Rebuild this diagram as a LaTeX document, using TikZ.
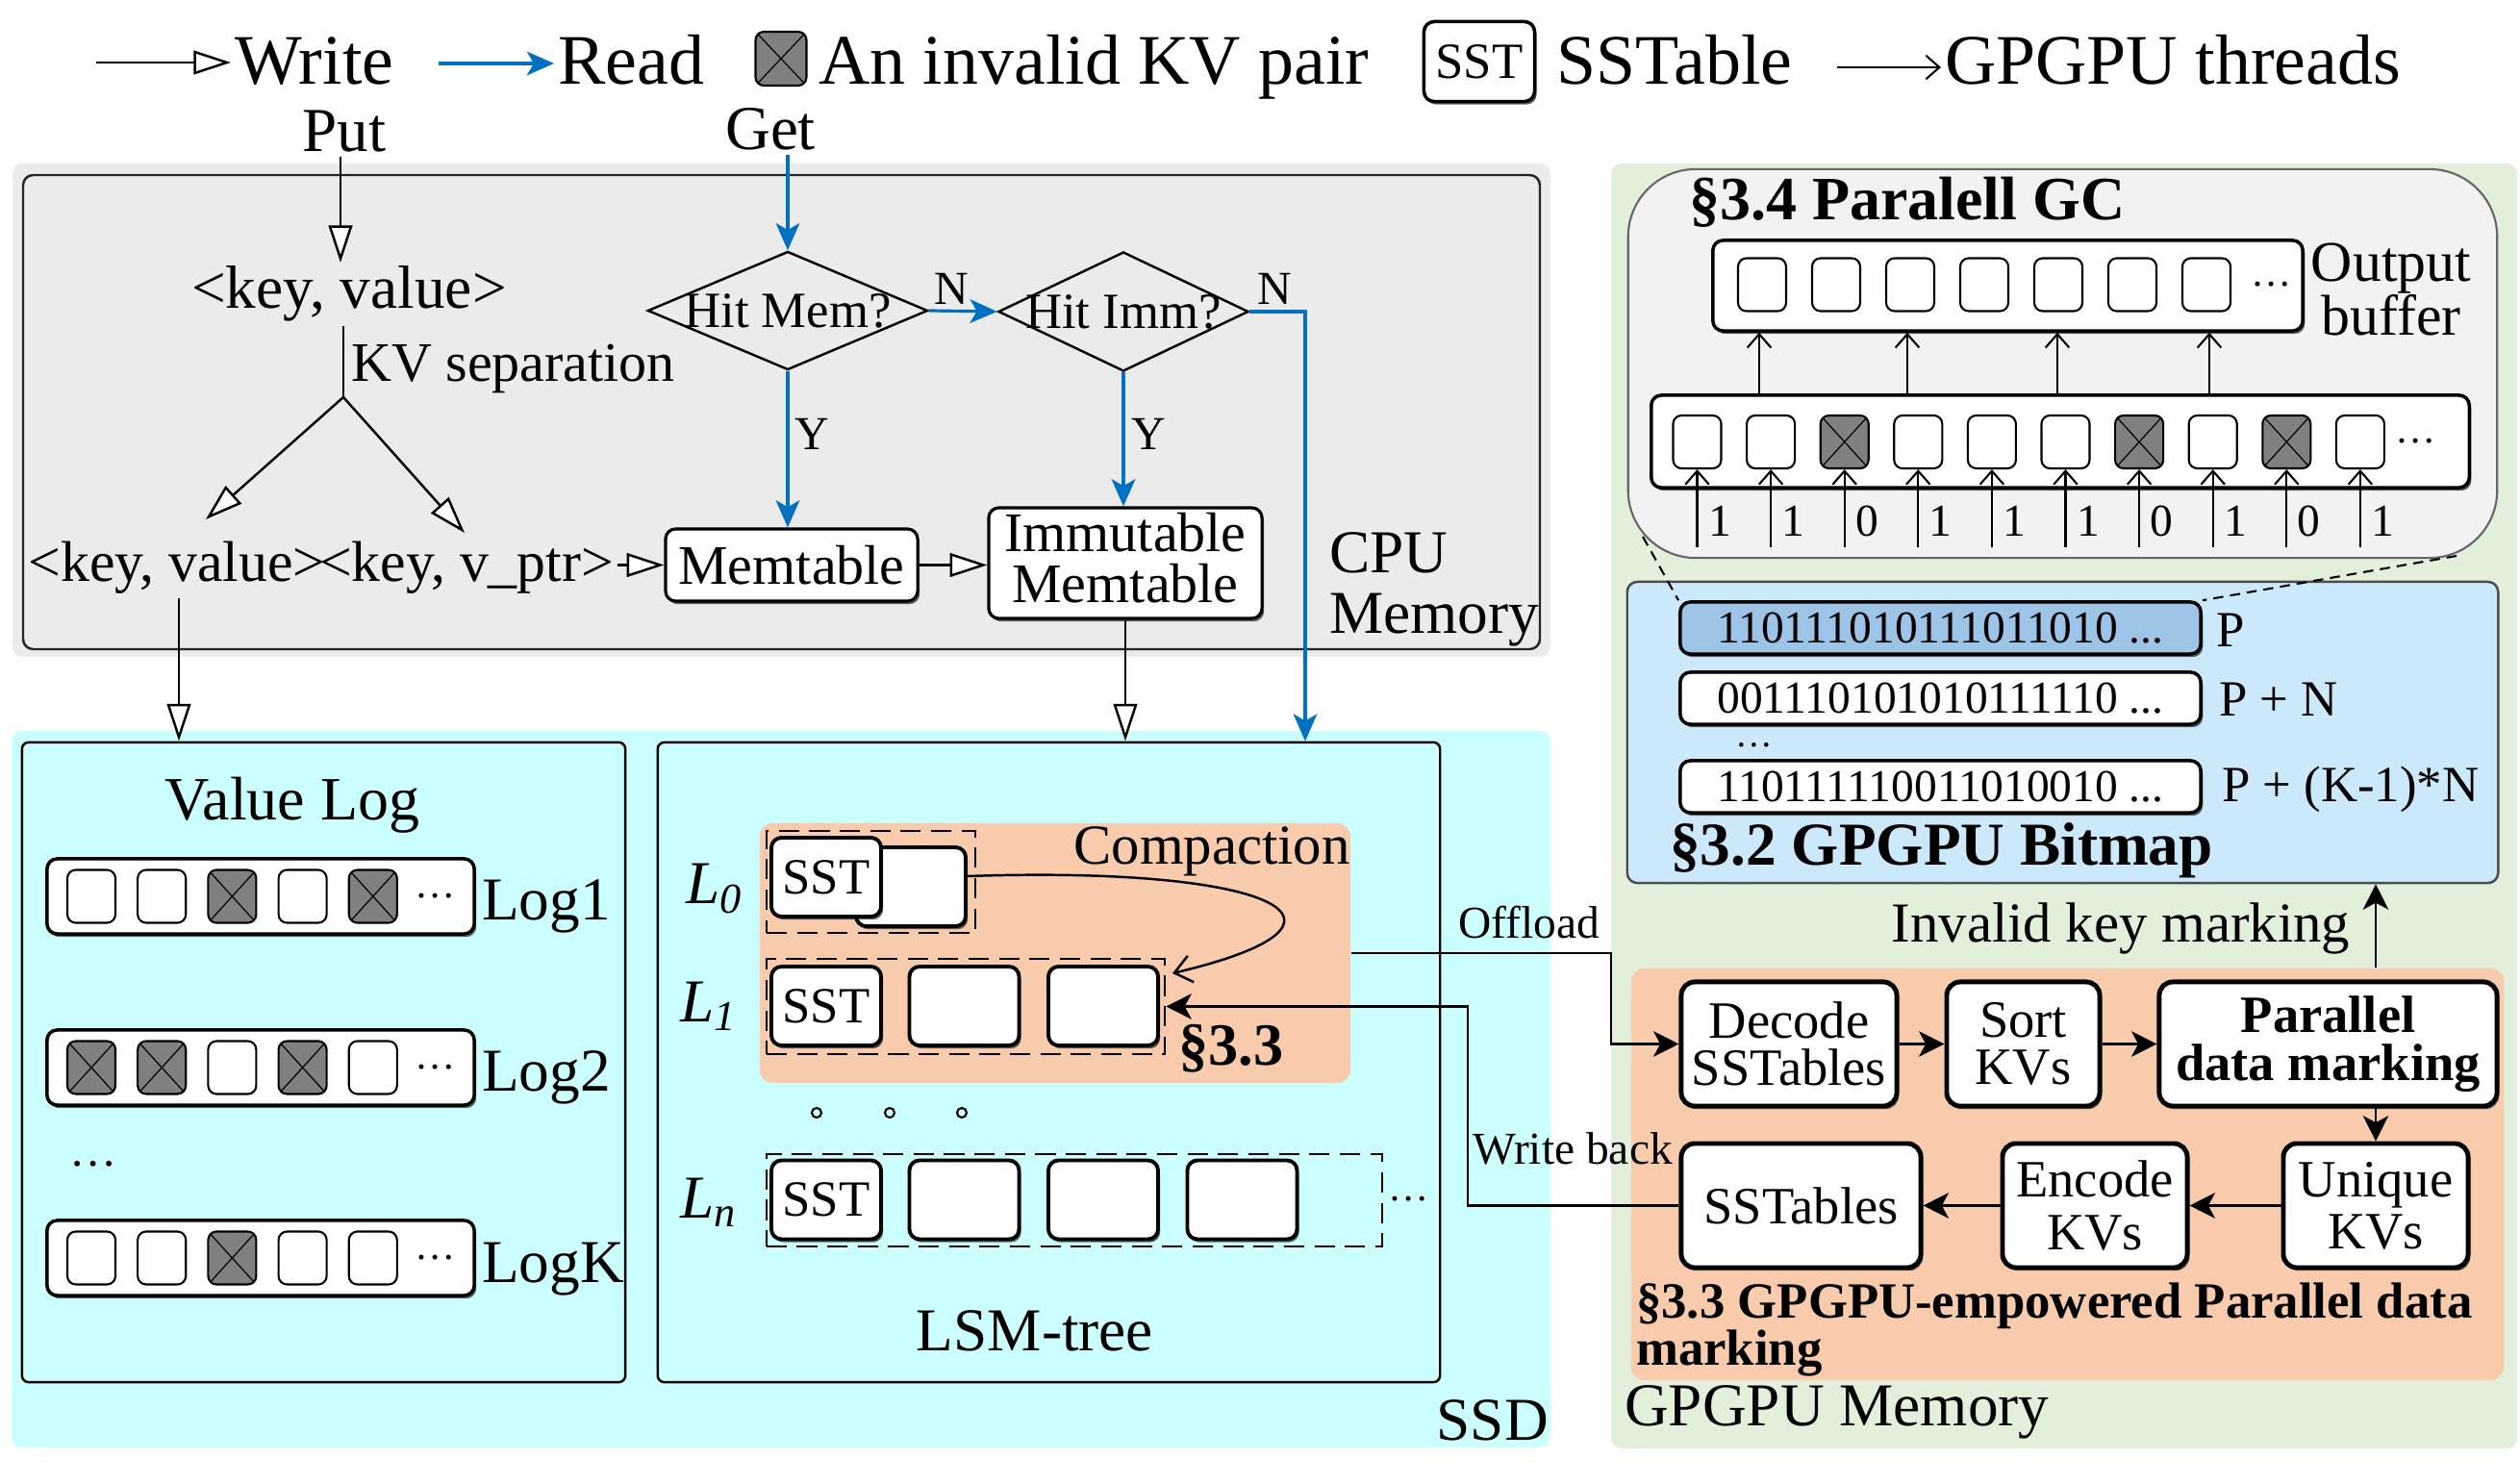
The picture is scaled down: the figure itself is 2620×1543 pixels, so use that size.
\documentclass[tikz,border=0pt]{standalone}
\usepackage{fontspec}
\setmainfont{Liberation Serif}
\usetikzlibrary{arrows.meta,shapes.geometric,shadows,calc}
\definecolor{cpugray}{HTML}{EBEBEB}
\definecolor{ssdcyan}{HTML}{CCFFFF}
\definecolor{orng}{HTML}{F8CBAD}
\definecolor{grn}{HTML}{E2EFDA}
\definecolor{bmblue}{HTML}{CCE9FB}
\definecolor{pblue}{HTML}{9DC3E6}
\definecolor{gcgray}{HTML}{F2F2F2}
\definecolor{rdblue}{HTML}{0070C0}
\definecolor{invgray}{HTML}{808080}
\newcommand\fsz[1]{\fontsize{#1}{#1}\selectfont}
\newcommand\fsl[2]{\fontsize{#1}{#2}\selectfont}
\newcommand\logrow[3]{%
  \node[rowbox, minimum width=4.44cm, minimum height=0.78cm] (log#1) at (271,#2) {};
  \foreach \v [count=\i from 0] in {#3} {
    \ifnum\v=1 \node[cell,inv] (lc#1\i) at ({95+73.2*\i},#2) {};
    \else \node[cell] (lc#1\i) at ({95+73.2*\i},#2) {}; \fi
  }
  \node[font=\fsz{12}] (ld#1) at (453,#2) {\ldots};
  \node[font=\fsz{18},anchor=base west] (lbl#1) at (497,{#2+25}) {Log#1};
}
\begin{document}
\begin{tikzpicture}[x=0.01cm,y=-0.01cm,
  every node/.style={inner sep=1pt},
  wr/.style={line width=0.7pt,-{Triangle[fill=white,length=11pt,width=7pt]}},
  rd/.style={line width=0.9pt,draw=rdblue,-{Stealth[length=8pt,width=7pt,inset=2pt]}},
  fa/.style={line width=0.8pt,-{Stealth[length=7.5pt,width=7.5pt,inset=2pt]}},
  th/.style={line width=0.6pt,-{Straight Barb[length=4pt,width=7pt]}},
  shd/.style={drop shadow={shadow xshift=0.6pt,shadow yshift=-0.9pt,fill=black,opacity=0.6}},
  cpubox/.style={draw,fill=white,rounded corners=3pt,line width=0.9pt,shd},
  rowbox/.style={draw,fill=white,rounded corners=3pt,line width=1pt,shd},
  cell/.style={draw,fill=white,rounded corners=2.5pt,line width=0.6pt,minimum width=0.5cm,minimum height=0.55cm,inner sep=0pt},
  inv/.style={fill=invgray,path picture={\draw[line width=0.35pt] (path picture bounding box.north west) -- (path picture bounding box.south east) (path picture bounding box.north east) -- (path picture bounding box.south west);}},
  sstbox/.style={draw,fill=white,rounded corners=3pt,line width=1.1pt,shd,minimum width=1.14cm,minimum height=0.82cm,font=\fsz{15}},
  dbox/.style={draw,dash pattern=on 6pt off 3pt,line width=0.7pt},
  gbox/.style={draw,fill=white,rounded corners=4pt,line width=1.4pt,shd,minimum height=1.29cm,align=center,font=\fsl{15.5}{14}},
  bitrow/.style={draw,rounded corners=3pt,line width=1pt,shd,minimum width=5.41cm,minimum height=0.54cm,font=\fsz{13.5}},
  dmd/.style={diamond,draw,line width=0.7pt,inner sep=0pt}
]
\useasboundingbox (0,0) rectangle (2620,1543);

% ---------------- backgrounds
\fill[cpugray,rounded corners=3pt] (13,170) rectangle (1612,683);
\draw[rounded corners=3pt,line width=0.7pt,draw=black!85] (24,182) rectangle (1601,675);
\fill[ssdcyan,rounded corners=3pt] (12,760) rectangle (1612,1505);
\fill[grn,rounded corners=3pt] (1675,170) rectangle (2617,1506);

% ---------------- legend
\node[font=\fsz{21},anchor=base west] (lgw) at (240,88) {Write};
\coordinate (lgwa) at (100,65);
\draw[wr] (lgwa) -- (lgwa -| lgw.west);
\node[font=\fsz{21},anchor=base west] (lgr) at (576,88) {Read};
\coordinate (lgra) at (456,66);
\draw[rd] (lgra) -- (lgra -| lgr.west);
\node[cell,inv,minimum width=0.53cm,minimum height=0.56cm] (lginv) at (812,61) {};
\node[font=\fsz{21},anchor=base west] (lgi) at (847,88) {An invalid KV pair};
\node[draw,fill=white,rounded corners=3pt,line width=1pt,shd,minimum width=1.15cm,minimum height=0.83cm,font=\fsz{15}] (lgsst) at (1538,64) {SST};
\node[font=\fsz{21},anchor=base west] (lgs) at (1614,88) {SSTable};
\node[font=\fsz{21},anchor=base west] (lgt) at (2018,88) {GPGPU threads};
\coordinate (lgta) at (1910,70);
\draw[th] (lgta) -- (lgta -| lgt.west);

% ---------------- CPU memory
\node[font=\fsz{18.5},anchor=base] (put) at (358,158) {Put};
\node[font=\fsz{18.5},anchor=base] (get) at (801,156) {Get};
\node[font=\fsz{18},anchor=base] (kv) at (363,321) {<key, value>};
\coordinate (putx) at (354,273);
\draw[wr] (put.south -| putx) -- (putx);
\coordinate (split) at (357,413);
\draw[line width=0.7pt] (kv.south -| split) -- (split);
\node[font=\fsz{16.5},anchor=base west] (kvsep) at (361,397) {KV separation};
\node[font=\fsz{17},anchor=base] (kv2) at (184,605) {<key, value>};
\node[font=\fsz{17},anchor=base] (kvp) at (485,605) {<key, v\_ptr>};
\coordinate (tipL) at (214,540);
\coordinate (tipR) at (483,554);
\draw[wr] (split) -- (tipL);
\draw[wr] (split) -- (tipR);

\node[cpubox,minimum width=2.62cm,minimum height=0.75cm,font=\fsz{16.5}] (mem) at (823,587.5) {Memtable};
\node[cpubox,minimum width=2.84cm,minimum height=1.15cm] (imm) at (1170,585.5) {};
\node[font=\fsl{16.5}{15},align=center] (immt) at (1170,580) {Immutable\\Memtable};
\draw[wr] (kvp.east |- mem.west) -- (mem.west);
\draw[wr] (mem.east) -- (imm.west |- mem.east);

\node[dmd,minimum width=2.91cm,minimum height=1.23cm,label={[font=\fsz{15}]center:Hit Mem?}] (hm) at (819,323) {};
\node[dmd,minimum width=2.60cm,minimum height=1.24cm,label={[font=\fsz{15}]center:Hit Imm?}] (hi) at (1168,324) {};

\node[font=\fsz{18},anchor=west,align=left] (cpul) at (1378,613) {\fsl{18}{16.5}CPU\\Memory};

% ---------------- SSD
\node[draw,rounded corners=2pt,line width=0.7pt,minimum width=6.27cm,minimum height=6.65cm] (vlog) at (336.5,1104.5) {};
\node[draw,rounded corners=2pt,line width=0.7pt,minimum width=8.13cm,minimum height=6.65cm] (lsm) at (1090.5,1104.5) {};

\draw[rd] (get.south -| hm.north) -- (hm.north);
\draw[rd] (hm.south) -- (hm.south |- mem.north);
\draw[rd] (hm.east) -- (hi.west);
\draw[rd] (hi.south) -- (hi.south |- imm.north);
\coordinate (nturn) at (1357,324);
\draw[rd] (hi.east) -- (nturn) -- (nturn |- lsm.north);
\node[font=\fsz{14}] (y1) at (844,451) {Y};
\node[font=\fsz{14}] (y2) at (1194,451) {Y};
\node[font=\fsz{14}] (n1) at (989,300) {N};
\node[font=\fsz{14}] (n2) at (1325,300) {N};

\coordinate (vlx) at (186,0);
\draw[wr] (kv2.south -| vlx) -- (vlx |- vlog.north);
\draw[wr] (imm.south) -- (imm.south |- lsm.north);

\node[font=\fsz{18.2},anchor=base] (vlt) at (304,853) {Value Log};
\logrow{1}{932}{0,0,1,0,1}
\logrow{2}{1110}{1,1,0,1,0}
\logrow{K}{1308}{0,0,1,0,0}
\node[font=\fsz{14}] (vdots) at (97,1210) {\ldots};

\node[fill=orng,rounded corners=4pt,minimum width=6.14cm,minimum height=2.70cm] (comp) at (1097,991) {};
\node[font=\fsz{16.7},anchor=base] (comptxt) at (1260,899) {Compaction};
\node[font=\fsz{18}] (L0) at (743,924) {\textit{L}\textsubscript{\textit{0}}};
\node[font=\fsz{18}] (L1) at (737,1046) {\textit{L}\textsubscript{\textit{1}}};
\node[font=\fsz{18}] (Ln) at (737,1250) {\textit{L}\textsubscript{\textit{n}}};

\node[dbox,minimum width=2.17cm,minimum height=1.06cm] (d0) at (905.5,917) {};
\node[dbox,minimum width=4.14cm,minimum height=0.99cm] (d1) at (1004,1046.5) {};
\node[dbox,minimum width=6.40cm,minimum height=0.96cm] (dn) at (1117,1248) {};

\node[sstbox] (l0b) at (947,922) {};
\node[sstbox] (l0a) at (859,912) {SST};
\node[sstbox] (l1a) at (859,1046) {SST};
\node[sstbox] (l1b) at (1002.5,1046) {};
\node[sstbox] (l1c) at (1147,1046) {};
\node[sstbox] (lna) at (859,1247.5) {SST};
\node[sstbox] (lnb) at (1002.5,1247.5) {};
\node[sstbox] (lnc) at (1147,1247.5) {};
\node[sstbox] (lnx) at (1291.5,1247.5) {};
\node[font=\fsz{12}] (dnd) at (1465,1247) {\ldots};

\coordinate (cstart) at (1006,911);
\coordinate (ctip) at (1219,1012);
\draw[line width=0.7pt,-{Straight Barb[length=5pt,width=8pt]}] (cstart) .. controls (1330,900) and (1440,960) .. (ctip);
\node[font=\bfseries\fsz{17.7},anchor=base] (s33) at (1280,1108) {§3.3};

\node[circle,draw,line width=0.6pt,minimum size=0.1cm,inner sep=0pt] (o1) at (849,1157) {};
\node[circle,draw,line width=0.6pt,minimum size=0.1cm,inner sep=0pt] (o2) at (925,1157) {};
\node[circle,draw,line width=0.6pt,minimum size=0.1cm,inner sep=0pt] (o3) at (1000,1157) {};

\node[font=\fsz{18},anchor=base] (lsmt) at (1076,1404) {LSM-tree};
\node[font=\fsz{18},anchor=base east] (ssdt) at (1614,1497) {SSD};

% ---------------- GPGPU
\node[draw=black!60,fill=gcgray,rounded corners=20pt,line width=0.6pt,minimum width=9.03cm,minimum height=4.04cm] (pgc) at (2144.5,378) {};
\node[font=\bfseries\fsz{18.2},anchor=base west] (pgct) at (1752,229) {§3.4 Paralell GC};

\node[rowbox,minimum width=6.13cm,minimum height=0.94cm] (ob) at (2087.5,297) {};
\foreach \i in {0,...,6} {\node[cell] (oc\i) at ({1832+77*\i},296) {};}
\node[font=\fsz{12}] (obd) at (2362,296) {\ldots};
\node[font=\fsl{17}{16},align=center] (oblbl) at (2486,301) {Output\\buffer};

\node[rowbox,minimum width=8.5cm,minimum height=0.96cm] (ib) at (2142,459) {};
\foreach \v [count=\i from 0] in {0,0,1,0,0,0,1,0,1,0} {
  \ifnum\v=1 \node[cell,inv] (ic\i) at ({1764.5+76.6*\i},459.5) {};
  \else \node[cell] (ic\i) at ({1764.5+76.6*\i},459.5) {}; \fi
}
\node[font=\fsz{12}] (ibd) at (2512,459) {\ldots};
\foreach \b [count=\i from 0] in {1,1,0,1,1,1,0,1,0,1} {
  \coordinate (tb\i) at ({1764.5+76.6*\i},569);
  \draw[th] (tb\i) -- (ic\i.south);
  \node[font=\fsz{13.5},anchor=base] (bl\i) at ({1788+76.6*\i},558) {\b};
}
\foreach \x [count=\i] in {1829,1983,2139,2297} {
  \coordinate (u\i) at (\x,0);
  \draw[th] (u\i |- ib.north) -- (u\i |- ob.south);
}

\node[draw=black!70,fill=bmblue,rounded corners=3pt,line width=0.7pt,minimum width=9.05cm,minimum height=3.13cm] (bm) at (2144.5,761.5) {};
\node[bitrow,fill=pblue] (prow) at (2017.5,653) {110111010111011010 ...};
\node[bitrow,fill=white] (pnrow) at (2017.5,726) {001110101010111110 ...};
\node[bitrow,fill=white] (pkrow) at (2017.5,818) {110111110011010010 ...};
\node[font=\fsz{15},anchor=west] (pl) at (2300,655) {P};
\node[font=\fsz{15},anchor=west] (pnl) at (2303,727) {P + N};
\node[font=\fsz{15},anchor=west] (pkl) at (2306,821) {P + (K-1)*N};
\node[font=\fsz{11},inner sep=0pt] (bmd) at (1824,775) {\ldots};
\node[font=\bfseries\fsz{18},anchor=base west] (bmt) at (1732,900) {§3.2 GPGPU Bitmap};

\coordinate (dl1) at (1708,558);
\coordinate (dl2) at (2554,578);
\draw[dash pattern=on 3pt off 2pt,line width=0.6pt] (dl1) -- (prow.north west);
\draw[dash pattern=on 3pt off 2pt,line width=0.6pt] (dl2) -- (prow.north east);

\node[fill=orng,rounded corners=4pt,minimum width=9.07cm,minimum height=4.28cm] (gpuo) at (2149.5,1221) {};
\node[gbox,minimum width=2.24cm,font=\fsl{15.5}{14}] (dec) at (1860,1085.5) {Decode\\SSTables};
\node[gbox,minimum width=1.59cm] (sort) at (2103.5,1085.5) {Sort\\KVs};
\node[gbox,minimum width=3.51cm,font=\bfseries\fsl{15.5}{14}] (par) at (2420.5,1085.5) {Parallel\\data marking};
\node[gbox,minimum width=1.92cm,font=\fsl{15.5}{15.4}] (uniq) at (2470,1253.5) {Unique\\KVs};
\node[gbox,minimum width=1.92cm,font=\fsl{15.5}{15.4}] (enc) at (2178,1253.5) {Encode\\KVs};
\node[gbox,minimum width=2.49cm] (sst2) at (1872.5,1253.5) {SSTables};
\draw[fa] (dec.east) -- (sort.west);
\draw[fa] (sort.east) -- (par.west);
\draw[fa] (uniq.north |- par.south) -- (uniq.north);
\draw[fa] (uniq.west) -- (enc.east);
\draw[fa] (enc.west) -- (sst2.east);

\node[font=\bfseries\fsl{15}{13.9},align=left,anchor=north west] (s33b) at (1697,1330) {§3.3 GPGPU-empowered Parallel data\\marking};
\node[font=\fsz{18},anchor=base west] (gml) at (1685,1482) {GPGPU Memory};

\coordinate (ikx) at (2470,0);
\draw[fa] (ikx |- gpuo.north) -- (ikx |- bm.south);
\node[font=\fsz{16.7},anchor=base] (ikt) at (2205,980) {Invalid key marking};

\coordinate (offx) at (1675,0);
\draw[fa] (comp.east) -- (comp.east -| offx) |- (dec.west);
\node[font=\fsz{13.5},anchor=base] (offt) at (1590,976) {Offload};
\coordinate (wbx) at (1526,0);
\draw[fa] (sst2.west) -- (sst2.west -| wbx) |- (d1.east);
\node[font=\fsz{13.5},anchor=base] (wbt) at (1635,1210) {Write back};
\end{tikzpicture}
\end{document}
